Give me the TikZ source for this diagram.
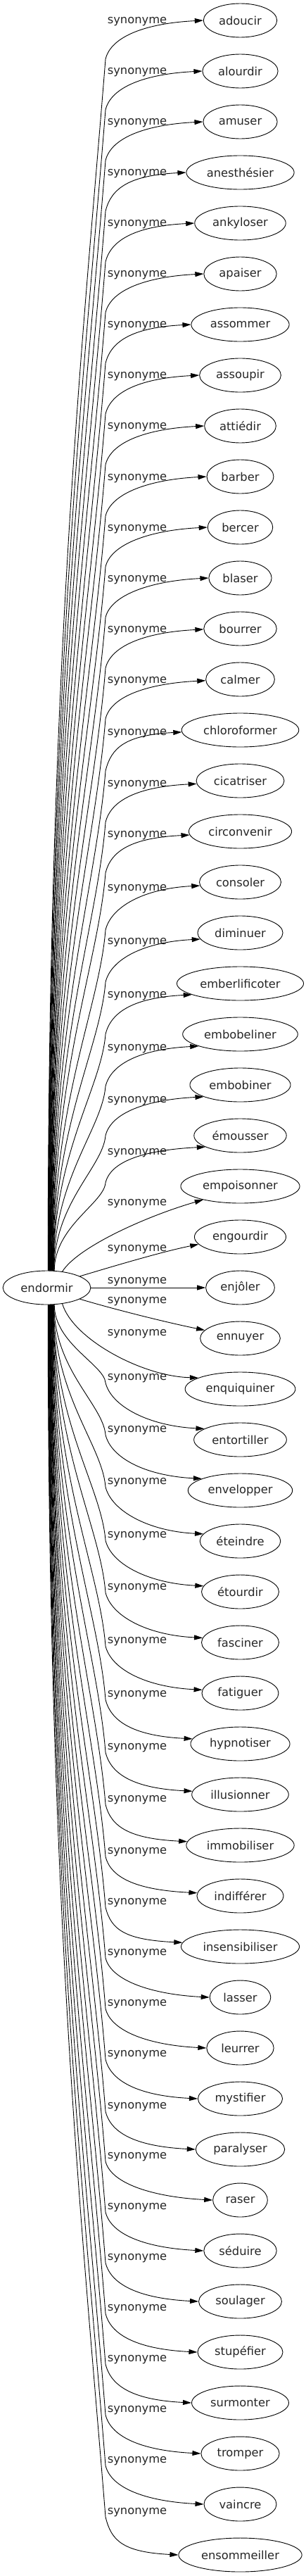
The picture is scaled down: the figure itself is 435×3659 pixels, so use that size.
\documentclass[tikz,border=0pt]{standalone}
\usepackage{fontspec}
\setmainfont{DejaVu Sans}
\usetikzlibrary{arrows.meta,shapes.geometric}

\begin{document}
\begin{tikzpicture}[
  x=1pt, y=-1pt,
  font=\fontsize{16.3}{19}\selectfont,
  word/.style={ellipse, draw, line width=0.9pt, inner xsep=6.5pt,
               inner ysep=0pt, minimum height=48pt, text=black!85},
  lbl/.style={anchor=base, inner sep=0pt, text=black!85},
  syn/.style={line width=0.9pt, -{Triangle[length=12pt, width=7pt]}},
]
\useasboundingbox (0,0) rectangle (435,3659);

% --- source word ---
\node[word, inner xsep=7pt] (E) at (66.5,1829) {endormir};

% --- synonyms, one row each, with their edge label ---
\foreach \w/\ly [count=\i] in {adoucir/29, alourdir/101, amuser/173,
    anesthésier/245, ankyloser/317, apaiser/389, assommer/461, assoupir/533,
    attiédir/605, barber/678, bercer/750, blaser/822, bourrer/894,
    calmer/966, chloroformer/1040, cicatriser/1113, circonvenir/1185,
    consoler/1261, diminuer/1337, emberlificoter/1413, embobeliner/1488,
    embobiner/1562, émousser/1636, empoisonner/1708, engourdir/1773,
    enjôler/1819, ennuyer/1847, enquiquiner/1893, entortiller/1956,
    envelopper/2030, éteindre/2104, étourdir/2180, fasciner/2254,
    fatiguer/2330, hypnotiser/2406, illusionner/2481, immobiliser/2555,
    indifférer/2629, insensibiliser/2701, lasser/2773, leurrer/2845,
    mystifier/2917, paralyser/2991, raser/3062, séduire/3134,
    soulager/3206, stupéfier/3278, surmonter/3350, tromper/3422,
    vaincre/3494, ensommeiller/3567}{
  \node[word] (t\i) at (341.5,{29+72*(\i-1)}) {\w};
  \node[lbl] (l\i) at (195,\ly+4.4) {synonyme};
}

% --- long edges going up ---
\foreach \i/\ky/\v in {1/84/0, 2/156/0, 3/228/0, 4/300/0, 5/372/0,
    6/444/0, 7/516/0, 8/588/0, 9/660/0, 10/733/1, 11/805/1, 12/877/1,
    13/949/2, 14/1021/3, 15/1095/3, 16/1168/5, 17/1240/5, 18/1321/6,
    19/1395/10, 20/1469/13, 21/1543/15, 22/1613/16, 23/1680/16}{
  \pgfmathsetmacro\dx{1.5+0.4*(\i-1)}
  \pgfmathsetmacro\sa{atan2(24*sqrt(1-\dx*\dx/3782.25),\dx)}
  \pgfmathsetmacro\ta{180+atan(\v/(65*sqrt(1-\v*\v/576)))}
  \pgfmathsetmacro\L{1806-\ky}
  \pgfmathsetmacro\h{0.23*\L}
  \draw[syn] (E.\sa) .. controls +(0,-0.5*\L) and +(-0.08*\h,\h) .. (150,\ky)
    .. controls +(8,-33) and +(-80,4) .. (t\i.\ta);
}

% --- long edges going down ---
\foreach \i/\ky/\v in {29/1964/-15, 30/2038/-15, 31/2112/-11, 32/2188/-9,
    33/2262/-7, 34/2338/-5, 35/2414/-6, 36/2489/-4, 37/2563/-4,
    38/2637/-4, 39/2709/-4, 40/2781/0, 41/2853/0, 42/2925/0, 43/2999/0,
    44/3070/0, 45/3142/0, 46/3214/0, 47/3286/0, 48/3358/0, 49/3430/0,
    50/3502/0, 51/3575/0}{
  \pgfmathsetmacro\dx{1.5+0.4*(51-\i)}
  \pgfmathsetmacro\sa{atan2(24*sqrt(1-\dx*\dx/3782.25),\dx)}
  \pgfmathsetmacro\ta{180+atan(\v/(65*sqrt(1-\v*\v/576)))}
  \pgfmathsetmacro\L{\ky-1853}
  \pgfmathsetmacro\h{0.23*\L}
  \draw[syn] (E.-\sa) .. controls +(0,0.5*\L) and +(-0.08*\h,-\h) .. (150,\ky)
    .. controls +(8,33) and +(-80,-4) .. (t\i.\ta);
}

% --- short edges next to the source ---
\draw[syn] (E.46) .. controls +(22,-35) and +(-80,23) .. (t24.200);
\draw[syn] (E.19) .. controls +(50,-15) and +(-50,10) .. (t25.190);
\draw[syn] (E) -- (t26);
\draw[syn] (E.-19) .. controls +(50,15) and +(-50,-10) .. (t27.167);
\draw[syn] (E.-46) .. controls +(15,50) and +(-80,-2) .. (t28.165);
\end{tikzpicture}
\end{document}
